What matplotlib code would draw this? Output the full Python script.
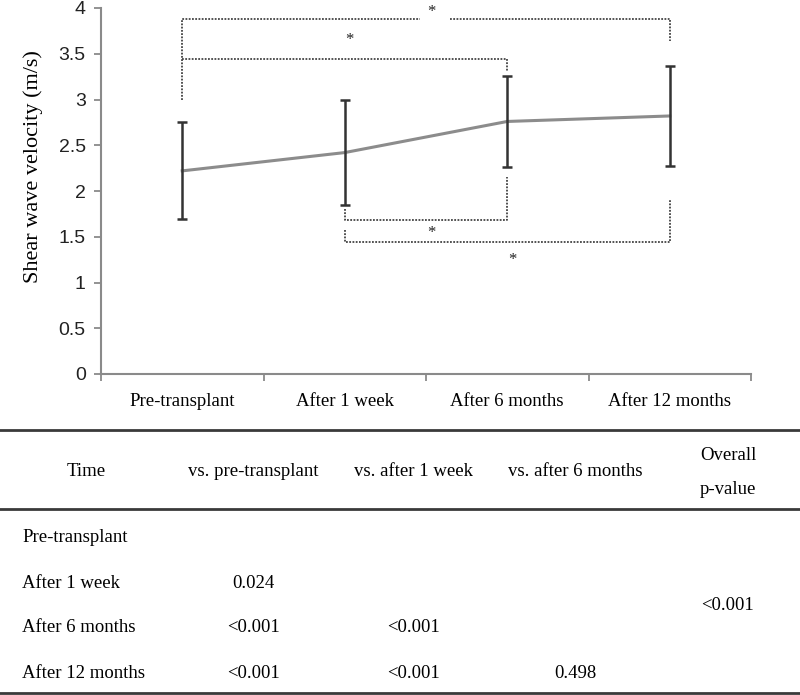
import numpy as np
import matplotlib.pyplot as plt
from matplotlib.lines import Line2D

categories = ['Pre-transplant', 'After 1 week', 'After 6 months', 'After 12 months']
means = [2.22, 2.42, 2.76, 2.82]
sds = [0.53, 0.57, 0.50, 0.55]

# significance brackets: left idx, right idx, bar height, left tip, right tip, star offset
brackets = [
    (0, 3, 3.88, 3.00, 3.64, 0.08),
    (0, 2, 3.44, 3.44, 3.31, 0.21),
    (1, 2, 1.68, 1.80, 2.15, -0.14),
    (1, 3, 1.445, 1.57, 1.91, -0.20),
]

table_header = ['Time', 'vs. pre-transplant', 'vs. after 1 week', 'vs. after 6 months', 'Overall\np-value']
table_rows = [
    ['Pre-transplant', '', '', ''],
    ['After 1 week', '0.024', '', ''],
    ['After 6 months', '<0.001', '<0.001', ''],
    ['After 12 months', '<0.001', '<0.001', '0.498'],
]
overall_p = '<0.001'

SERIF = ['Liberation Serif', 'DejaVu Serif']
SANS = ['Liberation Sans', 'DejaVu Sans']
DARK = '#333333'
GRID_GRAY = '#8a8a8a'

fig = plt.figure(figsize=(8, 6.95), dpi=100)

# chart
ax = fig.add_axes([101 / 800, 1 - 374 / 695, 650 / 800, 366 / 695])
x = np.arange(len(categories))
ax.plot(x, means, color='#8c8c8c', lw=2.2, zorder=3)
ax.errorbar(x, means, yerr=sds, fmt='none', ecolor=DARK, elinewidth=1.8,
            capsize=3.5, capthick=1.8, zorder=4)

for x1, x2, bar, tip1, tip2, off in brackets:
    kw = dict(color='#444444', lw=1.3, ls=(0, (1, 0.8)), zorder=2)
    mid = (x1 + x2) / 2
    if bar > 3.8:
        # top bar is broken around its star
        ax.plot([x1, x1, mid - 0.04], [tip1, bar, bar], **kw)
        ax.plot([mid + 0.15, x2, x2], [bar, bar, tip2], **kw)
    else:
        ax.plot([x1, x1, x2, x2], [tip1, bar, bar, tip2], **kw)
    ax.text(mid + 0.03, bar + off, '*', ha='center', va='center',
            fontsize=12, family=SERIF, color='#222222')

ax.set_xlim(-0.5, 3.5)
ax.set_ylim(0, 4)
ax.set_yticks(np.arange(0, 4.01, 0.5))
ax.set_yticklabels(['0', '0.5', '1', '1.5', '2', '2.5', '3', '3.5', '4'],
                   family=SANS, fontsize=14, color='#222222')
ax.set_xticks(x)
ax.set_xticklabels(categories, family=SERIF, fontsize=13.5)
ax.set_xticks(np.arange(-0.5, 3.6, 1), minor=True)
ax.tick_params(axis='x', which='major', length=0, pad=14)
ax.tick_params(axis='x', which='minor', length=5, width=1.3, color=GRID_GRAY, direction='out')
ax.tick_params(axis='y', length=5, width=1.3, color=GRID_GRAY, direction='out', pad=6)
for side in ['top', 'right']:
    ax.spines[side].set_visible(False)
for side in ['left', 'bottom']:
    ax.spines[side].set_color(GRID_GRAY)
    ax.spines[side].set_linewidth(1.5)
ax.set_ylabel('Shear wave velocity (m/s)', family=SERIF, fontsize=16)
ax.yaxis.set_label_coords(-0.089, 0.568)

# table
tab = fig.add_axes([0, 0, 1, 1])
tab.set_xlim(0, 800)
tab.set_ylim(695, 0)
tab.axis('off')
for yy in [430, 509, 693]:
    tab.add_line(Line2D([0, 800], [yy, yy], color='#3a3a3a', lw=2))

col_x = [86, 253, 414, 575, 728]
for cx, head in zip(col_x, table_header):
    if '\n' in head:
        top, bot = head.split('\n')
        tab.text(cx, 455, top, ha='center', va='center', family=SERIF, fontsize=13.5)
        tab.text(cx, 490, bot, ha='center', va='center', family=SERIF, fontsize=13.5)
    else:
        tab.text(cx, 472, head, ha='center', va='center', family=SERIF, fontsize=13.5)

row_y = [537, 583, 628, 673]
for ry, row in zip(row_y, table_rows):
    tab.text(22, ry, row[0], ha='left', va='center', family=SERIF, fontsize=13.5)
    for cx, val in zip(col_x[1:4], row[1:]):
        if val:
            tab.text(cx, ry, val, ha='center', va='center', family=SERIF, fontsize=13.5)
tab.text(col_x[4], 605, overall_p, ha='center', va='center', family=SERIF, fontsize=13.5)

fig.savefig('out.png', dpi=100)
